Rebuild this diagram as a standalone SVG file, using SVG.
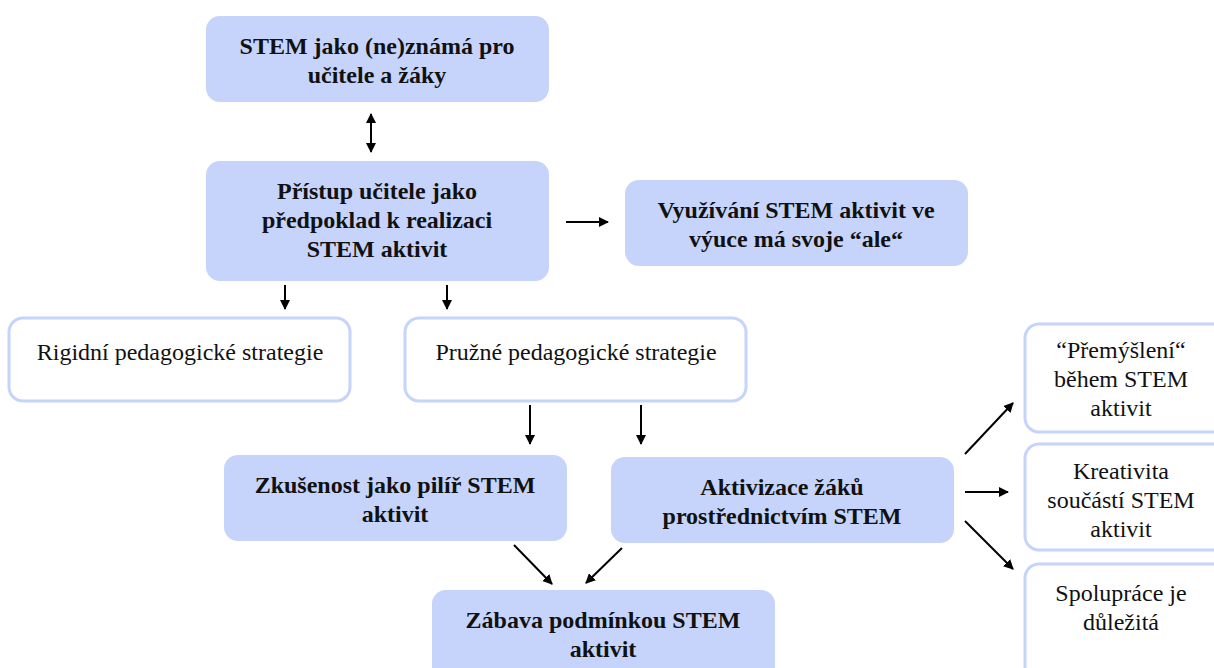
<svg xmlns="http://www.w3.org/2000/svg" width="1214" height="668" viewBox="0 0 1214 668">
<defs>
<style>
.f{fill:#c6d4fc;stroke:none}
.w{fill:#ffffff;stroke:#c6d4fc;stroke-width:3}
.b{font-family:'Liberation Serif','Times New Roman',serif;font-weight:bold;font-size:24px;fill:#111;text-anchor:middle}
.n{font-family:'Liberation Serif','Times New Roman',serif;font-size:24px;fill:#111;text-anchor:middle}
.c{stroke:#000;stroke-width:2;fill:none;marker-end:url(#ah)}
</style>
<marker id="ah" viewBox="0 0 10 10" refX="9" refY="5" markerWidth="5" markerHeight="5" orient="auto-start-reverse" markerUnits="strokeWidth">
<path d="M0,0 L10,5 L0,10 z" fill="#000"/>
</marker>
</defs>
<g id="n1"><rect class="f" x="206" y="16" width="343" height="86" rx="14"/>
<text class="b" x="377" y="54">STEM jako (ne)známá pro</text><text class="b" x="377" y="83">učitele a žáky</text></g>
<g id="n2"><rect class="f" x="206" y="161" width="343" height="120" rx="14"/>
<text class="b" x="377" y="199">Přístup učitele jako</text><text class="b" x="377" y="228">předpoklad k realizaci</text><text class="b" x="377" y="257">STEM aktivit</text></g>
<g id="n3"><rect class="f" x="625" y="180" width="343" height="86" rx="14"/>
<text class="b" x="796" y="218">Využívání STEM aktivit ve</text><text class="b" x="796" y="247">výuce má svoje “ale“</text></g>
<g id="n4"><rect class="w" x="9" y="318" width="341" height="83" rx="14"/>
<text class="n" x="180" y="360">Rigidní pedagogické strategie</text></g>
<g id="n5"><rect class="w" x="405" y="318" width="341" height="83" rx="14"/>
<text class="n" x="576" y="360">Pružné pedagogické strategie</text></g>
<g id="n6"><rect class="f" x="224" y="455" width="343" height="86" rx="14"/>
<text class="b" x="395" y="493">Zkušenost jako pilíř STEM</text><text class="b" x="395" y="522">aktivit</text></g>
<g id="n7"><rect class="f" x="611" y="457" width="343" height="86" rx="14"/>
<text class="b" x="782" y="495">Aktivizace žáků</text><text class="b" x="782" y="524">prostřednictvím STEM</text></g>
<g id="n8"><rect class="f" x="432" y="590" width="343" height="100" rx="14"/>
<text class="b" x="603" y="628">Zábava podmínkou STEM</text><text class="b" x="603" y="657">aktivit</text></g>
<g id="n9"><rect class="w" x="1025" y="324" width="210" height="108" rx="14"/>
<text class="n" x="1121" y="358">“Přemýšlení“</text><text class="n" x="1121" y="387">během STEM</text><text class="n" x="1121" y="416">aktivit</text></g>
<g id="n10"><rect class="w" x="1025" y="444" width="210" height="106" rx="14"/>
<text class="n" x="1121" y="479">Kreativita</text><text class="n" x="1121" y="508">součástí STEM</text><text class="n" x="1121" y="537">aktivit</text></g>
<g id="n11"><rect class="w" x="1025" y="564" width="210" height="120" rx="14"/>
<text class="n" x="1121" y="601">Spolupráce je</text><text class="n" x="1121" y="630">důležitá</text></g>
<g id="connectors">
<line class="c" x1="371" y1="114" x2="371" y2="152" style="marker-start:url(#ah)"/>
<line class="c" x1="566" y1="222" x2="608" y2="222"/>
<line class="c" x1="285" y1="285" x2="285" y2="309"/>
<line class="c" x1="447" y1="285" x2="447" y2="309"/>
<line class="c" x1="530" y1="405" x2="530" y2="444"/>
<line class="c" x1="641" y1="405" x2="641" y2="444"/>
<line class="c" x1="514" y1="545" x2="552" y2="584"/>
<line class="c" x1="622" y1="548" x2="586" y2="583"/>
<line class="c" x1="965" y1="454" x2="1013" y2="403"/>
<line class="c" x1="965" y1="492" x2="1008" y2="492"/>
<line class="c" x1="965" y1="521" x2="1013" y2="569"/>
</g>
</svg>
